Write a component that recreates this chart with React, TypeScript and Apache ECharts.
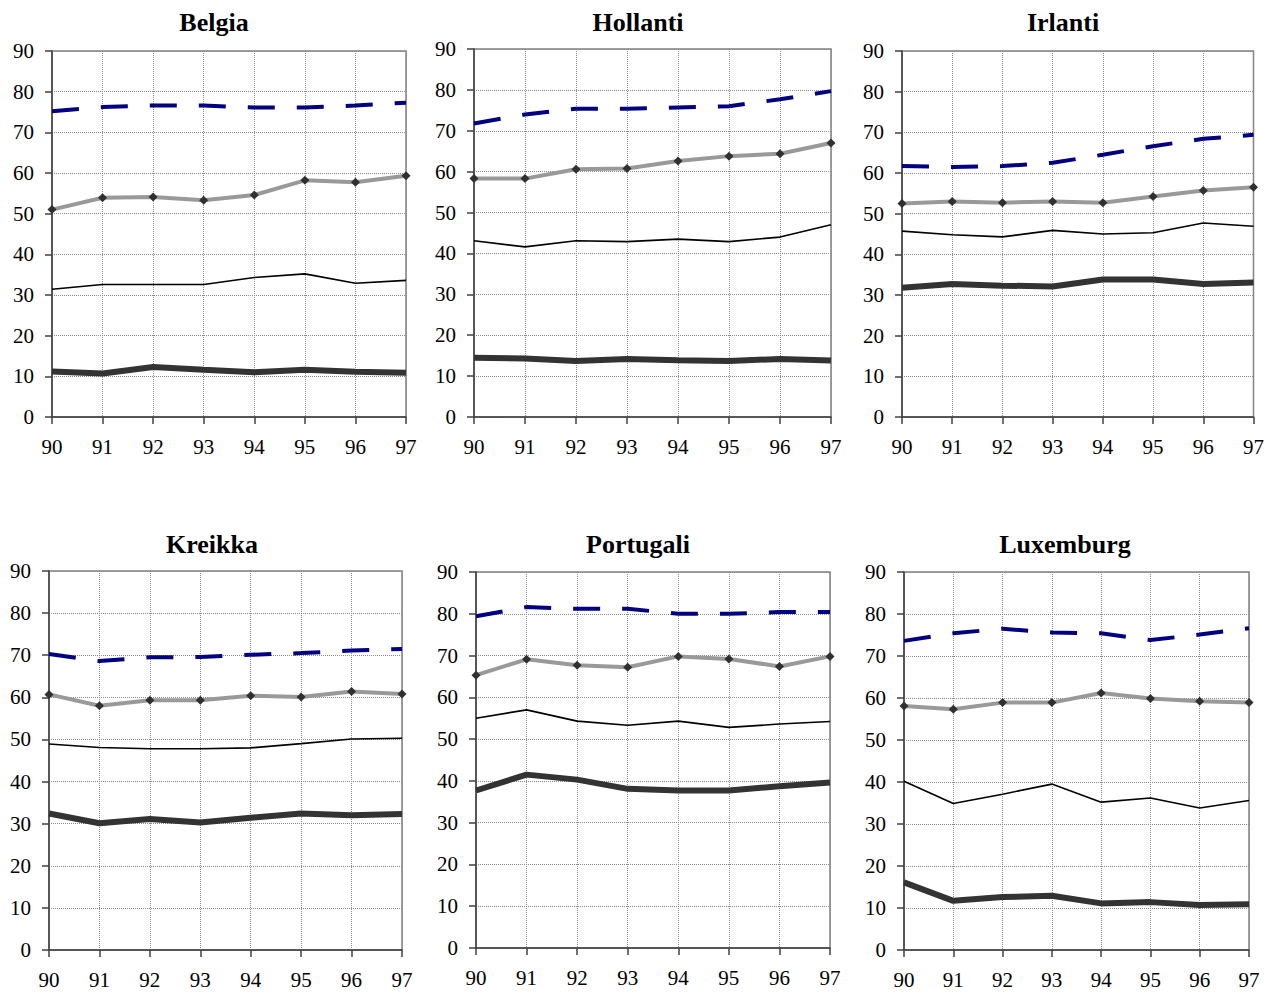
import React, { useEffect, useRef } from "react";
import * as echarts from "echarts";

const years = ["90", "91", "92", "93", "94", "95", "96", "97"];
const yTicks = { min: 0, max: 90, interval: 10 };

const countries = ["Belgia", "Hollanti", "Irlanti", "Kreikka", "Portugali", "Luxemburg"];

// series per country: dashed navy, grey with diamonds, thin black, thick dark
const belgiaDashed = [75.2, 76.2, 76.6, 76.6, 76.1, 76.1, 76.6, 77.3];
const belgiaGrey = [51.0, 53.9, 54.1, 53.3, 54.6, 58.2, 57.7, 59.3];
const belgiaThin = [31.4, 32.6, 32.6, 32.6, 34.3, 35.2, 32.9, 33.6];
const belgiaThick = [11.2, 10.7, 12.3, 11.6, 11.0, 11.6, 11.1, 10.9];

const hollantiDashed = [71.8, 74.0, 75.4, 75.4, 75.7, 76.0, 77.7, 79.7];
const hollantiGrey = [58.3, 58.3, 60.6, 60.8, 62.6, 63.8, 64.4, 67.0];
const hollantiThin = [43.1, 41.6, 43.1, 42.9, 43.5, 42.9, 44.0, 47.0];
const hollantiThick = [14.5, 14.3, 13.7, 14.2, 13.9, 13.7, 14.2, 13.8];

const irlantiDashed = [61.7, 61.5, 61.7, 62.5, 64.5, 66.6, 68.4, 69.4];
const irlantiGrey = [52.5, 53.0, 52.7, 53.0, 52.7, 54.2, 55.7, 56.5];
const irlantiThin = [45.7, 44.8, 44.3, 45.9, 45.0, 45.3, 47.7, 46.9];
const irlantiThick = [31.8, 32.7, 32.3, 32.1, 33.8, 33.8, 32.7, 33.1];

const kreikkaDashed = [70.3, 68.6, 69.5, 69.6, 70.1, 70.5, 71.1, 71.5];
const kreikkaGrey = [60.7, 58.0, 59.3, 59.3, 60.4, 60.1, 61.4, 60.8];
const kreikkaThin = [48.9, 48.1, 47.8, 47.8, 48.0, 49.0, 50.1, 50.3];
const kreikkaThick = [32.4, 30.1, 31.1, 30.3, 31.4, 32.4, 32.0, 32.3];

const portugaliDashed = [79.4, 81.6, 81.2, 81.2, 80.0, 80.0, 80.4, 80.4];
const portugaliGrey = [65.3, 69.1, 67.7, 67.2, 69.8, 69.2, 67.4, 69.8];
const portugaliThin = [55.0, 57.0, 54.3, 53.3, 54.3, 52.8, 53.6, 54.2];
const portugaliThick = [37.7, 41.5, 40.3, 38.1, 37.7, 37.7, 38.7, 39.6];

const luxemburgDashed = [73.6, 75.4, 76.5, 75.6, 75.4, 73.8, 75.1, 76.6];
const luxemburgGrey = [58.1, 57.3, 58.9, 58.9, 61.2, 59.9, 59.2, 58.9];
const luxemburgThin = [40.2, 34.9, 37.1, 39.5, 35.2, 36.2, 33.8, 35.6];
const luxemburgThick = [16.1, 11.7, 12.6, 12.9, 11.1, 11.4, 10.7, 10.9];

const panelData = [
  [belgiaDashed, belgiaGrey, belgiaThin, belgiaThick],
  [hollantiDashed, hollantiGrey, hollantiThin, hollantiThick],
  [irlantiDashed, irlantiGrey, irlantiThin, irlantiThick],
  [kreikkaDashed, kreikkaGrey, kreikkaThin, kreikkaThick],
  [portugaliDashed, portugaliGrey, portugaliThin, portugaliThick],
  [luxemburgDashed, luxemburgGrey, luxemburgThin, luxemburgThick],
];

// layout (pixels)
const grids = [
  { left: 52, top: 51, width: 354, height: 366 },
  { left: 474, top: 49, width: 357, height: 368 },
  { left: 902, top: 51, width: 352, height: 366 },
  { left: 49, top: 571, width: 353, height: 379 },
  { left: 476, top: 572, width: 354, height: 376 },
  { left: 904, top: 572, width: 345, height: 378 },
];
const titlePos = [
  { x: 214, y: 9 },
  { x: 638, y: 9 },
  { x: 1063, y: 9 },
  { x: 212, y: 531 },
  { x: 638, y: 531 },
  { x: 1065, y: 531 },
];

const FONT = "Liberation Serif";

export default function App() {
  const ref = useRef<HTMLDivElement>(null);
  useEffect(() => {
    if (!ref.current) return;
    const chart = echarts.init(ref.current, undefined, { renderer: "svg" });
    const grid: any[] = [];
    const xAxis: any[] = [];
    const yAxis: any[] = [];
    const series: any[] = [];
    const title: any[] = [];
    countries.forEach((name, i) => {
      const g = grids[i];
      grid.push({
        left: g.left,
        top: g.top,
        width: g.width,
        height: g.height,
        show: true,
        borderColor: "#808080",
        borderWidth: 1.5,
        backgroundColor: "transparent",
      });
      title.push({
        text: name,
        left: titlePos[i].x,
        top: titlePos[i].y,
        textAlign: "center",
        padding: 0,
        textStyle: { fontFamily: FONT, fontSize: 26, fontWeight: "bold", color: "#000" },
      });
      xAxis.push({
        type: "category",
        gridIndex: i,
        data: years,
        boundaryGap: false,
        axisLine: { show: true, lineStyle: { color: "#404040", width: 1.5 } },
        axisTick: { show: true, length: 7, interval: 0, lineStyle: { color: "#404040", width: 1.5 } },
        axisLabel: {
          fontFamily: FONT,
          fontSize: 21,
          fontWeight: "normal",
          color: "#000",
          margin: 19,
          interval: 0,
        },
        splitLine: { show: true, interval: 0, lineStyle: { color: "#8a8a8a", type: "dotted", width: 1 } },
      });
      yAxis.push({
        type: "value",
        gridIndex: i,
        min: yTicks.min,
        max: yTicks.max,
        interval: yTicks.interval,
        axisLine: { show: true, lineStyle: { color: "#404040", width: 1.5 } },
        axisTick: { show: true, length: 7, lineStyle: { color: "#404040", width: 1.5 } },
        axisLabel: { fontFamily: FONT, fontSize: 21, fontWeight: "normal", color: "#000", margin: 18 },
        splitLine: { show: true, lineStyle: { color: "#8a8a8a", type: "dotted", width: 1 } },
      });
      const [dashed, grey, thin, thick] = panelData[i];
      series.push(
        {
          type: "line",
          xAxisIndex: i,
          yAxisIndex: i,
          data: thick,
          symbol: "none",
          lineStyle: { color: "#333333", width: 6 },
        },
        {
          type: "line",
          xAxisIndex: i,
          yAxisIndex: i,
          data: thin,
          symbol: "none",
          lineStyle: { color: "#000000", width: 1.6 },
        },
        {
          type: "line",
          xAxisIndex: i,
          yAxisIndex: i,
          data: grey,
          symbol: "diamond",
          symbolSize: 9,
          itemStyle: { color: "#303030", borderWidth: 0 },
          lineStyle: { color: "#999999", width: 4 },
        },
        {
          type: "line",
          xAxisIndex: i,
          yAxisIndex: i,
          data: dashed,
          symbol: "none",
          lineStyle: { color: "#000080", width: 4, type: [27, 22] },
        }
      );
    });
    chart.setOption({
      animation: false,
      backgroundColor: "#ffffff",
      textStyle: { fontFamily: FONT },
      title,
      grid,
      xAxis,
      yAxis,
      series,
    });
    return () => chart.dispose();
  }, []);
  return (
    <div
      ref={ref}
      style={{ position: "absolute", left: 0, top: 0, width: 1267, height: 994 }}
    />
  );
}
